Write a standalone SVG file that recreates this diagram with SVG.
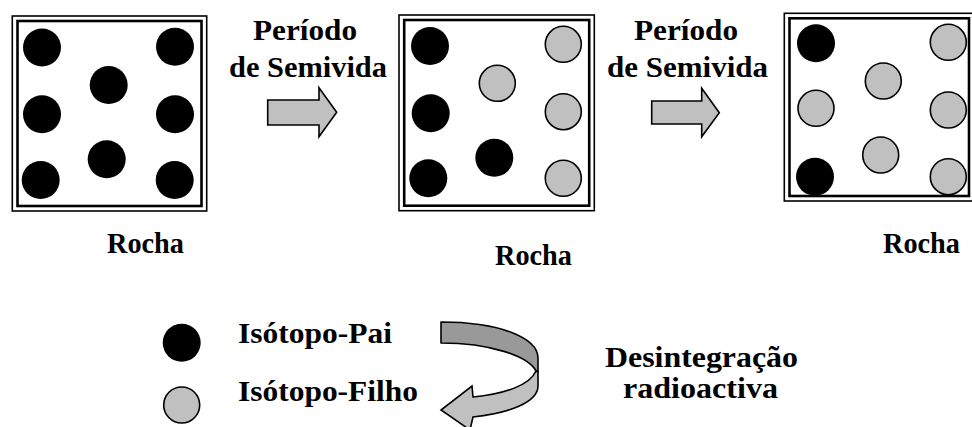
<svg xmlns="http://www.w3.org/2000/svg" width="972" height="427" viewBox="0 0 972 427">
<style>
.t{font-family:"Liberation Serif","Times New Roman",serif;font-weight:bold;font-size:30px;fill:#000}
.r{font-size:28.5px}
.ob{fill:none;stroke:#000;stroke-width:1.6}
.ib{fill:none;stroke:#000;stroke-width:2.6}
.p{fill:#000}
.d{fill:#c0c0c0;stroke:#000;stroke-width:1.6}
.ar{fill:#c0c0c0;stroke:#000;stroke-width:1.6;stroke-linejoin:miter}
.ar2{fill:#999;stroke:#000;stroke-width:1.6;stroke-linejoin:round}
</style>
<rect width="972" height="427" fill="#fff"/>
<g id="rock1">
<rect class="ob" x="12.3" y="16" width="194.4" height="195"/>
<rect class="ib" x="17.5" y="21" width="184" height="185"/>
<circle class="p" cx="42" cy="47.5" r="19"/>
<circle class="p" cx="175" cy="46.7" r="19"/>
<circle class="p" cx="108.7" cy="85" r="19"/>
<circle class="p" cx="42" cy="114.3" r="19"/>
<circle class="p" cx="175" cy="114.3" r="19"/>
<circle class="p" cx="106.7" cy="159.3" r="19"/>
<circle class="p" cx="40.7" cy="180" r="19"/>
<circle class="p" cx="174.7" cy="180" r="19"/>
<text class="t r" x="107" y="253" textLength="77" lengthAdjust="spacingAndGlyphs">Rocha</text>
</g>
<g id="rock2">
<rect class="ob" x="399" y="15" width="195.3" height="195.7"/>
<rect class="ib" x="404.2" y="20" width="185" height="185.7"/>
<circle class="p" cx="430" cy="46" r="19"/>
<circle class="d" cx="563.3" cy="44.3" r="18"/>
<circle class="d" cx="497.3" cy="83.3" r="18"/>
<circle class="p" cx="430.7" cy="113.3" r="19"/>
<circle class="d" cx="563.3" cy="111.7" r="18"/>
<circle class="p" cx="494.3" cy="157.7" r="19"/>
<circle class="p" cx="428.3" cy="178.3" r="19"/>
<circle class="d" cx="563.3" cy="178.3" r="18"/>
<text class="t r" x="495" y="265" textLength="77" lengthAdjust="spacingAndGlyphs">Rocha</text>
</g>
<g id="rock3">
<rect class="ob" x="784.3" y="13.3" width="190" height="187.7"/>
<rect class="ib" x="789.5" y="18.3" width="179.5" height="177.7"/>
<circle class="p" cx="816" cy="43.3" r="19"/>
<circle class="d" cx="948.3" cy="42.3" r="18"/>
<circle class="d" cx="883.3" cy="81" r="18"/>
<circle class="d" cx="816" cy="108.3" r="18"/>
<circle class="d" cx="948.3" cy="110" r="18"/>
<circle class="d" cx="880.7" cy="155" r="18"/>
<circle class="p" cx="815" cy="176.7" r="19"/>
<circle class="d" cx="948.3" cy="176.7" r="18"/>
<text class="t r" x="883" y="253" textLength="77" lengthAdjust="spacingAndGlyphs">Rocha</text>
</g>
<g id="step1">
<text class="t" x="253" y="40" textLength="104" lengthAdjust="spacingAndGlyphs">Período</text>
<text class="t" x="229" y="77" textLength="158" lengthAdjust="spacingAndGlyphs">de Semivida</text>
</g>
<g id="step2">
<text class="t" x="634" y="40" textLength="104" lengthAdjust="spacingAndGlyphs">Período</text>
<text class="t" x="607" y="77" textLength="161" lengthAdjust="spacingAndGlyphs">de Semivida</text>
</g>
<g id="legend-parent">
<circle class="p" cx="181.7" cy="342.7" r="19"/>
<text class="t" x="238" y="343" textLength="154" lengthAdjust="spacingAndGlyphs">Isótopo-Pai</text>
</g>
<g id="legend-daughter">
<circle class="d" cx="181.7" cy="405" r="18"/>
<text class="t" x="238" y="401" textLength="180" lengthAdjust="spacingAndGlyphs">Isótopo-Filho</text>
</g>
<g id="decay-label">
<text class="t" x="605" y="367" textLength="193" lengthAdjust="spacingAndGlyphs">Desintegração</text>
<text class="t" x="623" y="398" textLength="155" lengthAdjust="spacingAndGlyphs">radioactiva</text>
</g>
<g id="connectors">
<path class="ar" d="M267.7,100 L319,100 L319,87.7 L336.7,112.3 L319,136.7 L319,125 L267.7,125 Z"/>
<path class="ar" d="M651.7,101 L701.7,101 L701.7,88.3 L719.3,112.7 L701.7,136.7 L701.7,124 L651.7,124 Z"/>
<path class="ar2" d="M441,322 C500,322 538,338 538,358 L538,372 L536,371 C528,356 490,343 441,343 Z"/>
<path class="ar" d="M536,371 C530,385 505,394 473,397 L472,386 L441,410 L470,430 L473,417 C510,413 538,402 538,386 L538,372 Z"/>
</g>
</svg>
